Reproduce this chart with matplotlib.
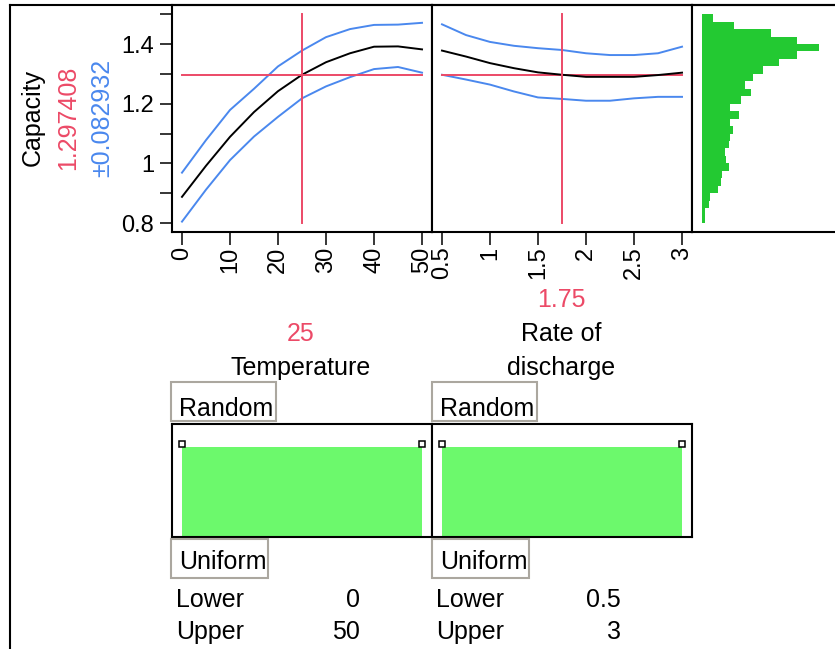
import matplotlib
import numpy as np

from matplotlib import pyplot as plt
from matplotlib.lines import Line2D
from matplotlib.patches import Rectangle
from matplotlib.ticker import FuncFormatter, FixedLocator

matplotlib.rc("font", family=["Liberation Sans", "DejaVu Sans"], size=18)

W, H = 835, 649
RED = "#EC4A67"
BLUE = "#4A88EE"
GREEN = "#23C932"
LIGHT_GREEN = "#6CF96C"
BOX_GRAY = "#ABA79F"

# profiler traces
temp = [0, 5, 10, 15, 20, 25, 30, 35, 40, 45, 50]
temp_fit = [0.888, 0.992, 1.089, 1.172, 1.242, 1.297, 1.339, 1.369, 1.391, 1.392, 1.382]
temp_hi = [0.969, 1.078, 1.179, 1.250, 1.325, 1.378, 1.423, 1.450, 1.464, 1.465, 1.471]
temp_lo = [0.805, 0.912, 1.011, 1.090, 1.156, 1.218, 1.258, 1.289, 1.316, 1.323, 1.304]

rate = [0.5, 0.75, 1.0, 1.25, 1.5, 1.75, 2.0, 2.25, 2.5, 2.75, 3.0]
rate_fit = [1.378, 1.358, 1.336, 1.319, 1.305, 1.297, 1.290, 1.290, 1.290, 1.296, 1.304]
rate_hi = [1.466, 1.430, 1.407, 1.394, 1.386, 1.380, 1.369, 1.363, 1.363, 1.369, 1.391]
rate_lo = [1.297, 1.281, 1.264, 1.241, 1.221, 1.216, 1.210, 1.210, 1.218, 1.223, 1.223]

# current settings
temp_now = 25
rate_now = 1.75
pred = 1.297408
ci = 0.082932

# simulated capacity histogram (bins of 0.025 from 0.8 up)
hist_lo = 0.8
hist_bin = 0.025
hist_counts = [3, 3, 7, 8, 16, 19, 20, 27, 24, 23, 27, 28, 31, 28,
               37, 28, 39, 49, 43, 51, 61, 77, 95, 117, 95, 69, 32, 11]

# random factor distributions
temp_range = (0, 50)
rate_range = (0.5, 3)
temp_ticks = [0, 10, 20, 30, 40, 50]
rate_ticks = [0.5, 1, 1.5, 2, 2.5, 3]
cap_major = [0.8, 1.0, 1.2, 1.4]
cap_minor = [0.9, 1.1, 1.3, 1.5]

YLIM = (0.7702, 1.5307)


def rect(x0, y0, x1, y1):
    return [x0 / W, 1 - y1 / H, (x1 - x0) / W, (y1 - y0) / H]


def ftext(x, y, s, **kw):
    fig.text(x / W, 1 - y / H, s, **kw)


def fbox(x0, y0, x1, y1):
    fig.add_artist(Rectangle((x0 / W, 1 - y1 / H), (x1 - x0) / W, (y1 - y0) / H,
                             transform=fig.transFigure, fill=False,
                             ec=BOX_GRAY, lw=1.5))


fmt = FuncFormatter(lambda v, p: "%g" % v)

fig = plt.figure(figsize=(W / 100, H / 100), dpi=100)

ax1 = fig.add_axes(rect(172, 5, 432, 232))
ax2 = fig.add_axes(rect(432, 5, 692, 232))
ax3 = fig.add_axes(rect(692, 5, 835, 232))
ax4 = fig.add_axes(rect(172, 424, 432, 537))
ax5 = fig.add_axes(rect(432, 424, 692, 537))

for ax in (ax1, ax2, ax3, ax4, ax5):
    for s in ax.spines.values():
        s.set_linewidth(1.5)
    ax.tick_params(direction="out", length=9, width=1.1, pad=1.5, labelsize=17)

LW = 1.4

# temperature profile
ax1.plot(temp, temp_hi, color=BLUE, lw=LW)
ax1.plot(temp, temp_lo, color=BLUE, lw=LW)
ax1.plot(temp, temp_fit, color="black", lw=LW)
ax1.plot(temp_range, [pred, pred], color=RED, lw=LW)
ax1.plot([temp_now, temp_now], [0.8, 1.5], color=RED, lw=LW)
ax1.set_xlim(-2.08, 52.08)
ax1.set_ylim(*YLIM)
ax1.xaxis.set_major_locator(FixedLocator(temp_ticks))
ax1.xaxis.set_major_formatter(fmt)
ax1.yaxis.set_major_locator(FixedLocator(cap_major))
ax1.yaxis.set_minor_locator(FixedLocator(cap_minor))
ax1.yaxis.set_major_formatter(fmt)
ax1.tick_params(axis="y", which="both", length=9, width=1.1, pad=4)
ax1.tick_params(axis="x", labelrotation=90)

# rate profile
ax2.plot(rate, rate_hi, color=BLUE, lw=LW)
ax2.plot(rate, rate_lo, color=BLUE, lw=LW)
ax2.plot(rate_range, [pred, pred], color=RED, lw=LW)
ax2.plot(rate, rate_fit, color="black", lw=LW)
ax2.plot([rate_now, rate_now], [0.8, 1.5], color=RED, lw=LW)
ax2.set_xlim(0.396, 3.104)
ax2.set_ylim(*YLIM)
ax2.xaxis.set_major_locator(FixedLocator(rate_ticks))
ax2.xaxis.set_major_formatter(fmt)
ax2.set_yticks([])
ax2.tick_params(axis="x", labelrotation=90)

# histogram of simulated response
edges = hist_lo + hist_bin * np.arange(len(hist_counts))
ax3.barh(edges, hist_counts, height=hist_bin, align="edge", color=GREEN, lw=0)
ax3.set_xlim(-10, 133)
ax3.set_ylim(*YLIM)
ax3.set_xticks([])
ax3.set_yticks([])
ax3.spines["right"].set_visible(False)

# uniform distributions of the random factors
for ax, (lo, hi), xl in ((ax4, temp_range, (-2.08, 52.08)),
                         (ax5, rate_range, (0.396, 3.104))):
    ax.fill_between([lo, hi], 0, 1, color=LIGHT_GREEN, lw=0)
    ax.plot([lo, hi], [1.03, 1.03], ls="none", marker="s", ms=5,
            mfc="white", mec="black", mew=1.1)
    ax.set_xlim(*xl)
    ax.set_ylim(0, 1.25)
    ax.set_xticks([])
    ax.set_yticks([])

# outer frame
fig.add_artist(Line2D([10 / W, 10 / W], [0, 1 - 5 / H], color="black", lw=1.5,
                      transform=fig.transFigure))
fig.add_artist(Line2D([10 / W, 1], [1 - 5 / H, 1 - 5 / H], color="black", lw=1.5,
                      transform=fig.transFigure))

# response labels
ftext(33, 118, "Capacity", rotation=90, ha="center", va="center")
ftext(68, 118, "%.6f" % pred, rotation=90, ha="center", va="center", color=RED)
ftext(102, 118, "\u00b1%.6f" % ci, rotation=90, ha="center", va="center", color=BLUE)

# factor labels
ftext(561, 300, "%g" % rate_now, ha="center", va="center", color=RED)
ftext(301, 334, "%g" % temp_now, ha="center", va="center", color=RED)
ftext(561, 334, "Rate of", ha="center", va="center")
ftext(301, 368, "Temperature", ha="center", va="center")
ftext(561, 368, "discharge", ha="center", va="center")

for x0 in (171, 432):
    fbox(x0, 382, x0 + 105, 421)
    ftext(x0 + 8, 409, "Random", ha="left", va="center")
    fbox(x0, 539, x0 + 97, 578)
    ftext(x0 + 8, 562, "Uniform", ha="left", va="center")

for x0, xr, (lo, hi) in ((176, 360, temp_range), (436, 621, rate_range)):
    ftext(x0, 600, "Lower", ha="left", va="center")
    ftext(xr, 600, "%g" % lo, ha="right", va="center")
    ftext(x0, 632, "Upper", ha="left", va="center")
    ftext(xr, 632, "%g" % hi, ha="right", va="center")

fig.savefig("out.png", dpi=100)
